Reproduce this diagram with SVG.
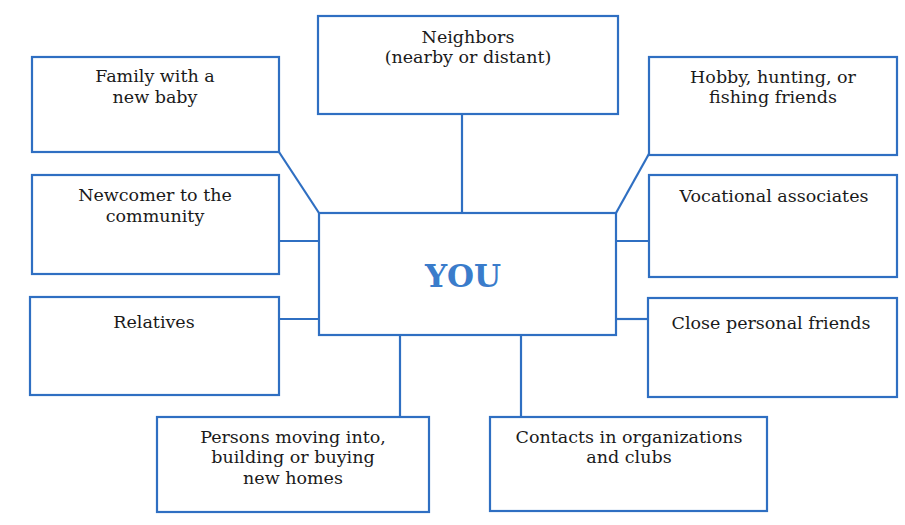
<svg xmlns="http://www.w3.org/2000/svg" width="905" height="525" viewBox="0 0 905 525">
<style>
.box{fill:#fff;stroke:#2f6fc2;stroke-width:2.2}
.con{fill:none;stroke:#2f6fc2;stroke-width:2.2}
.t{font-family:"DejaVu Serif","Liberation Serif",serif;font-size:17.5px;fill:#1a1a1a;text-anchor:middle}
.you{font-family:"DejaVu Serif","Liberation Serif",serif;font-size:31px;font-weight:bold;fill:#3a7ccb;text-anchor:middle}
</style>
<rect width="905" height="525" fill="#fff"/>
<g id="connectors">
<line class="con" x1="462" y1="114" x2="462" y2="213"/>
<line class="con" x1="279" y1="152" x2="319" y2="213"/>
<line class="con" x1="279" y1="241" x2="319" y2="241"/>
<line class="con" x1="279" y1="319" x2="319" y2="319"/>
<line class="con" x1="650" y1="152" x2="616" y2="213"/>
<line class="con" x1="616" y1="241" x2="649" y2="241"/>
<line class="con" x1="616" y1="319" x2="648" y2="319"/>
<line class="con" x1="400" y1="335" x2="400" y2="417"/>
<line class="con" x1="521" y1="335" x2="521" y2="417"/>
</g>
<g id="you">
<rect class="box" x="319" y="213" width="297" height="122"/>
<text class="you" x="463" y="287">YOU</text>
</g>
<g id="neighbors">
<rect class="box" x="318" y="16" width="300" height="98"/>
<text class="t" x="468" y="43">Neighbors</text>
<text class="t" x="468" y="63">(nearby or distant)</text>
</g>
<g id="family">
<rect class="box" x="32" y="57" width="247" height="95"/>
<text class="t" x="155" y="82">Family with a</text>
<text class="t" x="155" y="103">new baby</text>
</g>
<g id="newcomer">
<rect class="box" x="32" y="175" width="247" height="99"/>
<text class="t" x="155" y="201">Newcomer to the</text>
<text class="t" x="155" y="222">community</text>
</g>
<g id="relatives">
<rect class="box" x="30" y="297" width="249" height="98"/>
<text class="t" x="154" y="328">Relatives</text>
</g>
<g id="hobby">
<rect class="box" x="649" y="57" width="248" height="98"/>
<text class="t" x="773" y="83">Hobby, hunting, or</text>
<text class="t" x="773" y="103">fishing friends</text>
</g>
<g id="vocational">
<rect class="box" x="649" y="175" width="248" height="102"/>
<text class="t" x="774" y="202">Vocational associates</text>
</g>
<g id="close">
<rect class="box" x="648" y="298" width="249" height="99"/>
<text class="t" x="771" y="329">Close personal friends</text>
</g>
<g id="persons">
<rect class="box" x="157" y="417" width="272" height="95"/>
<text class="t" x="293" y="443">Persons moving into,</text>
<text class="t" x="293" y="463">building or buying</text>
<text class="t" x="293" y="484">new homes</text>
</g>
<g id="contacts">
<rect class="box" x="490" y="417" width="277" height="94"/>
<text class="t" x="629" y="443">Contacts in organizations</text>
<text class="t" x="629" y="463">and clubs</text>
</g>
</svg>
